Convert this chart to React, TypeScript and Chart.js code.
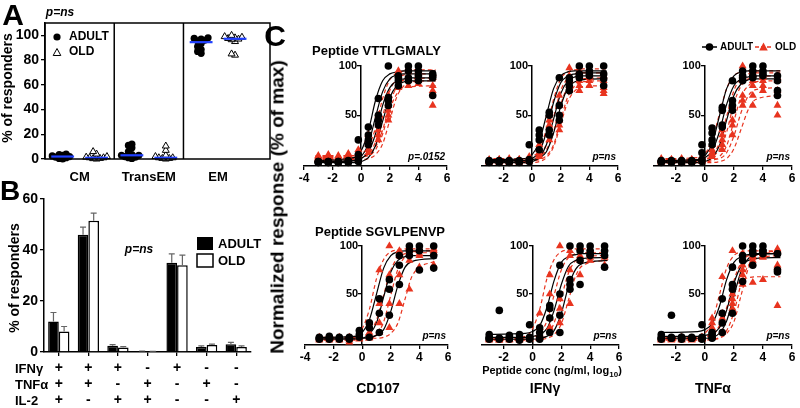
import React, { useEffect, useRef } from "react";
import { Chart, registerables } from "chart.js";

Chart.register(...registerables);

const FONT = "'Liberation Sans', Arial, Helvetica, sans-serif";
Chart.defaults.font.family = FONT;
Chart.defaults.color = "#000";

const RED = "#e8341f";
const BLUE = "#2040ff";

const seriesNames = ["ADULT", "OLD"];

/* ---------------- Panel A ---------------- */
const subsetLabels = ["CM", "TransEM", "EM"];
const adultCM = [0, 0.5, 1, 1.5, 2, 2.5, 3, 3.5, 4];
const oldCM = [0, 0.3, 0.5, 1, 1, 1.5, 2, 4, 6];
const adultTransEM = [0.5, 1, 1.5, 2, 3, 3, 3.5, 6, 9, 11, 12];
const oldTransEM = [0, 0.5, 0.5, 1, 1, 2, 3, 7, 10.5];
const adultEM = [85.5, 87, 88.5, 91, 93.5, 95.5, 96, 97, 97.5, 98];
const oldEM = [84, 85, 95, 96.5, 97, 97.5, 98, 98.5, 99, 100];
const yTicksA = [0, 20, 40, 60, 80, 100];

/* ---------------- Panel B ---------------- */
const cytokineRows = ["IFNγ", "TNFα", "IL-2"];
const ifnSigns = ["+", "+", "+", "-", "+", "-", "-"];
const tnfSigns = ["+", "+", "-", "+", "-", "+", "-"];
const il2Signs = ["+", "-", "+", "+", "-", "-", "+"];
const adultPct = [12, 46, 2.5, 0.3, 35, 2, 3];
const adultSem = [3.5, 3, 0.4, 0.1, 3.5, 0.4, 0.8];
const oldPct = [8, 51.5, 1.8, 0.2, 34, 2.7, 2];
const oldSem = [2, 3, 0.3, 0.1, 4, 0.4, 0.4];
const yTicksB = [0, 20, 40, 60];

/* ---------------- Panel C ---------------- */
const peptides = ["Peptide VTTLGMALY", "Peptide SGVLPENVP"];
const readouts = ["CD107", "IFNγ", "TNFα"];
const pValues = ["p=.0152", "p=ns", "p=ns", "p=ns", "p=ns", "p=ns"];
const yTicksC = [50, 100];
const concLog = [-3, -2.3, -1.6, -0.9, -0.2, 0.5, 1.2, 1.9, 2.6, 3.3, 4, 5];
const fitLog = [-3.2, -0.5, 0, 0.5, 1, 1.5, 2, 2.5, 3, 3.5, 5.2];

// VTTLGMALY / CD107
const vttCd107AdultPts = [
  [3, 2, 3, 4, 25, 38, 67, 100, 88, 100, 100, 92],
  [2, 3, 2, 3, 10, 30, 50, 68, 90, 95, 95, 90],
  [3, 2, 3, 2, 5, 25, 45, 60, 85, 85, 90, 70],
  [2, 3, 2, 3, 3, 20, 40, 65, 80, 88, 85, 88],
];
const vttCd107OldPts = [
  [8, 9, 8, 10, 15, 30, 50, 70, 95, 98, 95, 92],
  [6, 5, 6, 7, 10, 25, 40, 60, 90, 95, 92, 88],
  [9, 10, 9, 11, 12, 20, 35, 55, 85, 88, 88, 80],
  [5, 4, 5, 6, 5, 15, 30, 45, 80, 85, 85, 75],
  [7, 6, 7, 8, 8, 12, 25, 50, 78, 80, 82, 60],
];
const vttCd107AdultFit = [
  [4, 7, 14, 34, 65, 85, 92, 94, 95, 95, 95],
  [3, 4, 8, 21, 48, 74, 87, 91, 92, 92, 92],
  [3, 4, 6, 13, 31, 60, 78, 85, 87, 88, 88],
  [2, 2, 3, 7, 19, 44, 68, 80, 84, 85, 85],
];
const vttCd107OldFit = [
  [8, 9, 11, 18, 37, 67, 86, 93, 95, 96, 96],
  [6, 6, 7, 11, 23, 49, 75, 87, 91, 92, 92],
  [9, 9, 10, 11, 18, 35, 62, 79, 86, 87, 88],
  [5, 5, 5, 6, 10, 21, 45, 69, 80, 84, 85],
  [7, 7, 8, 9, 15, 31, 56, 72, 78, 79, 80],
];

// VTTLGMALY / IFNγ
const vttIfnAdultPts = [
  [3, 4, 3, 4, 20, 35, 53, 88, 85, 100, 100, 100],
  [2, 3, 2, 3, 5, 30, 50, 60, 88, 92, 95, 92],
  [4, 2, 3, 2, 3, 25, 35, 50, 80, 90, 92, 87],
  [3, 3, 4, 3, 4, 15, 30, 45, 75, 88, 90, 80],
];
const vttIfnOldPts = [
  [4, 5, 4, 5, 8, 20, 50, 70, 98, 95, 96, 90],
  [3, 2, 3, 4, 5, 15, 45, 60, 90, 90, 92, 85],
  [5, 5, 6, 5, 6, 12, 40, 45, 85, 85, 88, 75],
  [2, 3, 2, 3, 4, 10, 30, 40, 80, 80, 85, 72],
  [3, 4, 3, 2, 3, 8, 25, 35, 75, 75, 80, 78],
];
const vttIfnAdultFit = [
  [5, 6, 10, 23, 50, 77, 90, 94, 95, 95, 95],
  [3, 4, 6, 13, 33, 63, 83, 90, 92, 93, 93],
  [2, 2, 3, 7, 20, 46, 72, 85, 89, 90, 90],
  [4, 4, 5, 7, 13, 32, 59, 78, 84, 86, 87],
];
const vttIfnOldFit = [
  [5, 6, 8, 15, 36, 66, 87, 94, 96, 97, 97],
  [3, 3, 4, 8, 21, 48, 75, 88, 92, 93, 93],
  [6, 6, 7, 9, 15, 33, 61, 79, 85, 87, 88],
  [4, 4, 4, 5, 9, 20, 45, 69, 80, 84, 85],
  [2, 2, 2, 3, 7, 18, 41, 64, 75, 79, 80],
];

// VTTLGMALY / TNFα
const vttTnfAdultPts = [
  [3, 2, 3, 4, 20, 37, 58, 85, 95, 100, 100, 90],
  [4, 3, 4, 3, 12, 32, 55, 65, 90, 95, 95, 85],
  [2, 4, 3, 2, 5, 25, 40, 60, 88, 90, 92, 75],
  [3, 3, 2, 3, 3, 20, 38, 55, 85, 88, 90, 70],
];
const vttTnfOldPts = [
  [6, 5, 6, 5, 8, 20, 35, 60, 100, 95, 90, 85],
  [4, 5, 4, 5, 6, 15, 30, 55, 90, 85, 88, 75],
  [5, 4, 5, 4, 5, 12, 25, 45, 70, 80, 85, 60],
  [3, 3, 4, 3, 4, 10, 20, 40, 60, 60, 75, 50],
  [2, 3, 2, 3, 3, 8, 15, 30, 65, 70, 80, 88],
];
const vttTnfAdultFit = [
  [3, 4, 9, 21, 49, 77, 90, 94, 95, 95, 95],
  [4, 5, 7, 14, 33, 61, 80, 87, 89, 90, 90],
  [2, 2, 3, 7, 19, 45, 70, 82, 86, 87, 87],
];
const vttTnfOldFit = [
  [6, 7, 11, 24, 51, 77, 90, 94, 95, 95, 95],
  [4, 4, 5, 9, 22, 49, 75, 88, 92, 93, 93],
  [5, 5, 6, 8, 15, 33, 62, 80, 87, 89, 90],
  [3, 3, 3, 4, 8, 19, 44, 69, 80, 84, 85],
  [4, 4, 4, 5, 6, 12, 29, 53, 70, 76, 78],
  [2, 2, 2, 2, 3, 6, 16, 36, 56, 66, 70],
];

// SGVLPENVP / CD107
const sgvCd107AdultPts = [
  [5, 6, 5, 4, 12, 20, 45, 65, 80, 100, 100, 100],
  [3, 4, 3, 5, 8, 15, 30, 55, 90, 95, 95, 90],
  [4, 3, 4, 3, 5, 5, 10, 28, 60, 90, 75, 77],
];
const sgvCd107OldPts = [
  [2, 3, 2, 0, 5, 20, 75, 100, 95, 98, 95, 97],
  [4, 5, 4, 5, 6, 10, 40, 70, 90, 92, 90, 93],
  [3, 2, 3, 2, 3, 5, 20, 40, 70, 85, 92, 95],
  [5, 4, 5, 4, 4, 4, 10, 15, 40, 55, 78, 80],
];
const sgvCd107AdultFit = [
  [5, 6, 10, 23, 50, 77, 90, 94, 95, 95, 95],
  [3, 3, 4, 8, 20, 47, 73, 85, 89, 90, 90],
  [4, 4, 4, 5, 7, 13, 32, 59, 78, 84, 87],
];
const sgvCd107OldFit = [
  [3, 6, 14, 34, 66, 86, 94, 96, 97, 97, 97],
  [5, 5, 6, 10, 23, 49, 75, 88, 92, 93, 93],
  [2, 2, 2, 3, 8, 21, 49, 76, 89, 94, 95],
  [4, 4, 4, 4, 4, 5, 9, 20, 45, 69, 85],
];

// SGVLPENVP / IFNγ
const sgvIfnAdultPts = [
  [8, 33, 7, 8, 18, 15, 38, 80, 100, 100, 100, 100],
  [5, 4, 5, 4, 5, 10, 35, 50, 65, 95, 95, 95],
  [3, 4, 3, 3, 4, 5, 25, 28, 60, 60, 90, 78],
  [4, 3, 4, 2, 3, 3, 10, 10, 55, 85, 92, 90],
];
const sgvIfnOldPts = [
  [3, 2, 3, 4, 5, 30, 70, 100, 95, 98, 97, 97],
  [4, 3, 4, 3, 4, 15, 50, 45, 90, 90, 92, 90],
  [2, 3, 2, 3, 3, 8, 25, 35, 75, 85, 88, 80],
  [3, 2, 3, 2, 3, 5, 15, 20, 40, 70, 85, 88],
];
const sgvIfnAdultFit = [
  [8, 9, 11, 17, 36, 64, 83, 89, 91, 92, 92],
  [5, 5, 6, 8, 14, 33, 60, 79, 85, 87, 88],
  [3, 3, 3, 4, 6, 12, 30, 58, 76, 82, 85],
];
const sgvIfnOldFit = [
  [3, 6, 14, 34, 66, 86, 94, 96, 97, 97, 97],
  [4, 4, 5, 9, 22, 49, 75, 88, 92, 93, 93],
  [2, 2, 2, 3, 7, 20, 46, 72, 85, 89, 90],
  [3, 3, 3, 3, 4, 8, 19, 44, 69, 80, 85],
];

// SGVLPENVP / TNFα
const sgvTnfAdultPts = [
  [8, 28, 5, 4, 18, 10, 45, 78, 100, 100, 100, 92],
  [5, 4, 5, 4, 5, 8, 30, 60, 63, 95, 95, 75],
  [4, 5, 4, 5, 4, 5, 20, 55, 90, 80, 92, 73],
  [3, 4, 3, 4, 3, 4, 10, 30, 85, 92, 95, 92],
];
const sgvTnfOldPts = [
  [3, 4, 3, 4, 5, 25, 68, 95, 92, 95, 95, 97],
  [5, 4, 5, 4, 5, 20, 30, 45, 80, 90, 92, 80],
  [2, 3, 2, 3, 3, 10, 20, 40, 70, 85, 88, 78],
  [4, 3, 4, 3, 4, 15, 25, 50, 60, 62, 65, 38],
  [3, 2, 3, 2, 3, 5, 10, 35, 75, 88, 90, 95],
];
const sgvTnfAdultFit = [
  [10, 11, 13, 19, 37, 65, 83, 89, 91, 92, 92],
  [6, 6, 7, 9, 15, 33, 61, 79, 85, 87, 88],
  [4, 4, 4, 5, 9, 22, 48, 74, 87, 91, 92],
];
const sgvTnfOldFit = [
  [3, 4, 9, 21, 49, 77, 90, 94, 95, 95, 95],
  [5, 5, 6, 8, 15, 34, 64, 83, 90, 92, 93],
  [2, 2, 2, 3, 5, 12, 31, 61, 80, 87, 90],
  [4, 4, 5, 8, 17, 36, 55, 64, 67, 68, 68],
  [3, 3, 3, 3, 4, 9, 21, 49, 77, 90, 95],
];

const cData = [
  { ap: vttCd107AdultPts, op: vttCd107OldPts, af: vttCd107AdultFit, of: vttCd107OldFit },
  { ap: vttIfnAdultPts, op: vttIfnOldPts, af: vttIfnAdultFit, of: vttIfnOldFit },
  { ap: vttTnfAdultPts, op: vttTnfOldPts, af: vttTnfAdultFit, of: vttTnfOldFit },
  { ap: sgvCd107AdultPts, op: sgvCd107OldPts, af: sgvCd107AdultFit, of: sgvCd107OldFit },
  { ap: sgvIfnAdultPts, op: sgvIfnOldPts, af: sgvIfnAdultFit, of: sgvIfnOldFit },
  { ap: sgvTnfAdultPts, op: sgvTnfOldPts, af: sgvTnfAdultFit, of: sgvTnfOldFit },
];

/* ---------------- layout (pixels) ---------------- */
const cRows = [
  { top: 66, bottom: 166, ymin: -1.5, padTop: 25 },
  { top: 246, bottom: 345, ymin: -3, padTop: 12 },
];
const cCols = [
  { xmin: -4, xticks: [-4, -2, 0, 2, 4, 6], lr: [[304, 447], [305, 448]] },
  { xmin: -3.5, xticks: [-2, 0, 2, 4, 6], lr: [[482, 618], [482, 619]] },
  { xmin: -3.5, xticks: [-2, 0, 2, 4, 6], lr: [[654, 792], [654, 792]] },
];
const C_PAD_L = 14;
const C_PAD_R = 8;
const C_XAXIS_H = 22;

/* ---------------- helpers ---------------- */
type Pt = { x: number; y: number };

function median(a: number[]) {
  const s = [...a].sort((p, q) => p - q);
  const m = s.length >> 1;
  return s.length % 2 ? s[m] : (s[m - 1] + s[m]) / 2;
}

function swarm(vals: number[], cx: number, step: number, tol: number): Pt[] {
  const placed: { o: number; v: number }[] = [];
  const order = [0, -1, 1, -2, 2, -3, 3, -4, 4, -5, 5];
  return vals.map((v) => {
    for (const o of order) {
      if (!placed.some((p) => p.o === o && Math.abs(p.v - v) < tol)) {
        placed.push({ o, v });
        return { x: cx + o * step, y: v };
      }
    }
    return { x: cx, y: v };
  });
}

const grid = (tickLength: number) => ({
  drawOnChartArea: false,
  drawTicks: true,
  tickLength,
  color: "#000",
  lineWidth: 1.3,
});
const border = { display: true, color: "#000", width: 1.5 };

function drawTriangle(ctx: CanvasRenderingContext2D, x: number, y: number, r: number) {
  ctx.beginPath();
  ctx.moveTo(x, y - r);
  ctx.lineTo(x + r * 0.95, y + r * 0.75);
  ctx.lineTo(x - r * 0.95, y + r * 0.75);
  ctx.closePath();
}

/* ---------------- Panel A config ---------------- */
function configA(): any {
  const groups = [
    [adultCM, oldCM],
    [adultTransEM, oldTransEM],
    [adultEM, oldEM],
  ];
  const centers = [0.5, 1.5, 2.5];
  const off = 0.245;
  const half = 0.165;
  const medianSets: any[] = [];
  const adultPts: Pt[] = [];
  const oldPts: Pt[] = [];
  groups.forEach(([ad, od], i) => {
    const ca = centers[i] - off;
    const co = centers[i] + off;
    ([[ad, ca], [od, co]] as [number[], number][]).forEach(([vals, c]) => {
      const m = median(vals);
      medianSets.push({
        data: [{ x: c - half, y: m }, { x: c + half, y: m }],
        showLine: true,
        borderColor: BLUE,
        borderWidth: 2.2,
        pointRadius: 0,
        clip: false,
      });
    });
    adultPts.push(...swarm(ad, ca, 0.05, 3));
    oldPts.push(...swarm(od, co, 0.05, 3));
  });

  const boxPlugin = {
    id: "boxA",
    afterDraw(chart: any) {
      const { ctx, chartArea: a, scales } = chart;
      ctx.save();
      ctx.strokeStyle = "#000";
      ctx.lineWidth = 1.5;
      ctx.strokeRect(a.left, a.top, a.right - a.left, a.bottom - a.top);
      [1, 2].forEach((v) => {
        const x = scales.x.getPixelForValue(v);
        ctx.beginPath();
        ctx.moveTo(x, a.top);
        ctx.lineTo(x, a.bottom);
        ctx.stroke();
      });
      const lx = a.left + 12;
      ctx.fillStyle = "#000";
      ctx.beginPath();
      ctx.arc(lx, a.top + 14, 3.6, 0, Math.PI * 2);
      ctx.fill();
      ctx.lineWidth = 1;
      drawTriangle(ctx, lx, a.top + 29.5, 4);
      ctx.stroke();
      ctx.font = `bold 12px ${FONT}`;
      ctx.textBaseline = "middle";
      ctx.textAlign = "left";
      ctx.fillText(seriesNames[0], a.left + 24, a.top + 14);
      ctx.fillText(seriesNames[1], a.left + 24, a.top + 29);
      ctx.restore();
    },
  };

  return {
    type: "scatter",
    data: {
      datasets: [
        ...medianSets,
        {
          label: seriesNames[0],
          data: adultPts,
          pointStyle: "circle",
          pointRadius: 3.6,
          backgroundColor: "#000",
          borderColor: "#000",
          borderWidth: 0,
          clip: false,
        },
        {
          label: seriesNames[1],
          data: oldPts,
          pointStyle: "triangle",
          pointRadius: 4,
          backgroundColor: "#fff",
          borderColor: "#000",
          borderWidth: 1,
          clip: false,
        },
      ],
    },
    options: {
      responsive: false,
      animation: false,
      devicePixelRatio: 1,
      layout: { padding: { top: 23, right: 10, left: 0, bottom: 0 } },
      plugins: { legend: { display: false }, tooltip: { enabled: false } },
      scales: {
        x: {
          type: "linear",
          min: 0,
          max: 3.25,
          afterBuildTicks: (s: any) => {
            s.ticks = centers.map((v) => ({ value: v }));
          },
          ticks: {
            callback: (_v: any, i: number) => subsetLabels[i],
            font: { size: 13, weight: "bold" },
            padding: 11,
            maxRotation: 0,
            autoSkip: false,
          },
          grid: { display: false, drawTicks: false },
          border: { display: false },
          afterFit: (s: any) => {
            s.height = 33;
          },
        },
        y: {
          type: "linear",
          min: 0,
          max: 110,
          afterBuildTicks: (s: any) => {
            s.ticks = yTicksA.map((v) => ({ value: v }));
          },
          ticks: { font: { size: 14, weight: "bold" }, padding: 2 },
          grid: grid(4),
          border,
          afterFit: (s: any) => {
            s.width = 45;
          },
        },
      },
    },
    plugins: [boxPlugin],
  };
}

/* ---------------- Panel B config ---------------- */
function configB(): any {
  const sems = [adultSem, oldSem];
  const errPlugin = {
    id: "errB",
    afterDatasetsDraw(chart: any) {
      const { ctx, scales } = chart;
      ctx.save();
      ctx.strokeStyle = "#666";
      ctx.lineWidth = 1.2;
      chart.data.datasets.forEach((ds: any, di: number) => {
        const meta = chart.getDatasetMeta(di);
        meta.data.forEach((el: any, i: number) => {
          const top = scales.y.getPixelForValue(ds.data[i] + sems[di][i]);
          ctx.beginPath();
          ctx.moveTo(el.x, el.y);
          ctx.lineTo(el.x, top);
          ctx.moveTo(el.x - 3, top);
          ctx.lineTo(el.x + 3, top);
          ctx.stroke();
        });
      });
      ctx.restore();
    },
  };
  const legendPlugin = {
    id: "legB",
    afterDraw(chart: any) {
      const { ctx, chartArea: a } = chart;
      const bx = a.left + 153;
      const y1 = a.top + 38;
      const y2 = a.top + 55;
      ctx.save();
      ctx.fillStyle = "#000";
      ctx.fillRect(bx, y1, 16, 13);
      ctx.strokeStyle = "#000";
      ctx.lineWidth = 1.5;
      ctx.fillStyle = "#fff";
      ctx.fillRect(bx, y2, 16, 13);
      ctx.strokeRect(bx, y2, 16, 13);
      ctx.fillStyle = "#000";
      ctx.font = `bold 13px ${FONT}`;
      ctx.textBaseline = "middle";
      ctx.textAlign = "left";
      ctx.fillText(seriesNames[0], bx + 21, y1 + 7);
      ctx.fillText(seriesNames[1], bx + 21, y2 + 7);
      ctx.restore();
    },
  };
  return {
    type: "bar",
    data: {
      labels: ifnSigns.map((s, i) => [s, tnfSigns[i], il2Signs[i]]),
      datasets: [
        {
          label: seriesNames[0],
          data: adultPct,
          backgroundColor: "#000",
          borderColor: "#000",
          borderWidth: 1.5,
          barPercentage: 1,
          categoryPercentage: 0.72,
        },
        {
          label: seriesNames[1],
          data: oldPct,
          backgroundColor: "#fff",
          borderColor: "#000",
          borderWidth: 1.5,
          barPercentage: 1,
          categoryPercentage: 0.72,
        },
      ],
    },
    options: {
      responsive: false,
      animation: false,
      devicePixelRatio: 1,
      layout: { padding: { top: 13, right: 29, left: 0, bottom: 0 } },
      plugins: { legend: { display: false }, tooltip: { enabled: false } },
      scales: {
        x: {
          grid: { ...grid(4), offset: false },
          border,
          ticks: {
            font: { size: 14, weight: "bold", lineHeight: "16px" },
            padding: 4,
            maxRotation: 0,
            autoSkip: false,
          },
          afterFit: (s: any) => {
            s.height = 56;
          },
        },
        y: {
          min: 0,
          max: 60,
          afterBuildTicks: (s: any) => {
            s.ticks = yTicksB.map((v) => ({ value: v }));
          },
          ticks: { font: { size: 14, weight: "bold" }, padding: 2 },
          grid: grid(4),
          border,
          afterFit: (s: any) => {
            s.width = 44;
          },
        },
      },
    },
    plugins: [errPlugin, legendPlugin],
  };
}

/* ---------------- Panel C config ---------------- */
function configC(idx: number): any {
  const d = cData[idx];
  const row = cRows[Math.floor(idx / 3)];
  const col = cCols[idx % 3];
  const fitSets = (rows: number[][], color: string, dash: number[]) =>
    rows.map((r) => ({
      data: fitLog.map((x, i) => ({ x, y: r[i] })),
      showLine: true,
      borderColor: color,
      borderWidth: 1.2,
      borderDash: dash,
      pointRadius: 0,
      cubicInterpolationMode: "monotone",
      fill: false,
      clip: false,
    }));
  const ptSet = (rows: number[][], style: string, color: string, radius: number) => ({
    data: rows.flatMap((r) => concLog.map((x, i) => ({ x, y: r[i] }))),
    pointStyle: style,
    pointRadius: radius,
    backgroundColor: color,
    borderColor: color,
    borderWidth: 0,
    clip: false,
  });

  const extra = {
    id: "extraC" + idx,
    afterDraw(chart: any) {
      const { ctx, chartArea: a, scales } = chart;
      ctx.save();
      ctx.fillStyle = "#000";
      // y tick labels, left of the axis at x = 0
      const x0 = scales.x.getPixelForValue(0);
      ctx.font = `bold 11px ${FONT}`;
      ctx.textAlign = "right";
      ctx.textBaseline = "middle";
      yTicksC.forEach((v) => ctx.fillText(String(v), x0 - 4, scales.y.getPixelForValue(v)));
      // p value
      ctx.font = `italic bold 10px ${FONT}`;
      ctx.fillText(pValues[idx], a.right - 2, a.bottom - 9);
      if (idx === 2) {
        const y = a.top - 19;
        const r = a.right;
        ctx.lineWidth = 1.5;
        ctx.strokeStyle = "#000";
        ctx.beginPath();
        ctx.moveTo(r - 90, y);
        ctx.lineTo(r - 75, y);
        ctx.stroke();
        ctx.beginPath();
        ctx.arc(r - 82.5, y, 3.8, 0, Math.PI * 2);
        ctx.fill();
        ctx.font = `bold 10px ${FONT}`;
        ctx.textAlign = "left";
        ctx.fillText(seriesNames[0], r - 72, y + 0.5);
        ctx.strokeStyle = RED;
        ctx.fillStyle = RED;
        ctx.setLineDash([4, 2]);
        ctx.beginPath();
        ctx.moveTo(r - 37, y);
        ctx.lineTo(r - 20, y);
        ctx.stroke();
        ctx.setLineDash([]);
        drawTriangle(ctx, r - 28.5, y, 4.5);
        ctx.fill();
        ctx.fillStyle = "#000";
        ctx.fillText(seriesNames[1], r - 17, y + 0.5);
      }
      ctx.restore();
    },
  };

  return {
    type: "scatter",
    data: {
      datasets: [
        ptSet(d.ap, "circle", "#000", 3.8),
        ptSet(d.op, "triangle", RED, 4.6),
        ...fitSets(d.af, "#000", []),
        ...fitSets(d.of, RED, [4, 3]),
      ],
    },
    options: {
      responsive: false,
      animation: false,
      devicePixelRatio: 1,
      layout: { padding: { top: row.padTop, left: C_PAD_L, right: C_PAD_R, bottom: 0 } },
      plugins: { legend: { display: false }, tooltip: { enabled: false } },
      scales: {
        x: {
          type: "linear",
          min: col.xmin,
          max: 6,
          afterBuildTicks: (s: any) => {
            s.ticks = col.xticks.map((v) => ({ value: v }));
          },
          ticks: {
            font: { size: 12, weight: "bold" },
            padding: 1,
            maxRotation: 0,
            autoSkip: false,
            callback: (v: any) => String(v),
          },
          grid: grid(4),
          border,
          afterFit: (s: any) => {
            s.height = C_XAXIS_H;
          },
        },
        y: {
          type: "linear",
          min: row.ymin,
          max: 100,
          position: { x: 0 },
          afterBuildTicks: (s: any) => {
            s.ticks = yTicksC.map((v) => ({ value: v }));
          },
          ticks: { display: false },
          grid: grid(3),
          border,
        },
      },
    },
    plugins: [extra],
  };
}

/* ---------------- components ---------------- */
function ChartBox(props: { left: number; top: number; width: number; height: number; make: () => any }) {
  const ref = useRef<HTMLCanvasElement>(null);
  useEffect(() => {
    const chart = new Chart(ref.current as HTMLCanvasElement, props.make());
    return () => chart.destroy();
  }, []);
  return (
    <div style={{ position: "absolute", left: props.left, top: props.top, width: props.width, height: props.height }}>
      <canvas
        ref={ref}
        width={props.width}
        height={props.height}
        style={{ display: "block", width: props.width, height: props.height }}
      />
    </div>
  );
}

function Txt(props: {
  x: number;
  y: number;
  size: number;
  children: React.ReactNode;
  italic?: boolean;
  rot?: boolean;
  left?: boolean;
}) {
  return (
    <div
      style={{
        position: "absolute",
        left: props.x,
        top: props.y,
        transform: `translate(${props.left ? "0" : "-50%"},-50%)${props.rot ? " rotate(-90deg)" : ""}`,
        font: `${props.italic ? "italic " : ""}bold ${props.size}px ${FONT}`,
        lineHeight: 1,
        whiteSpace: "nowrap",
        color: "#000",
      }}
    >
      {props.children}
    </div>
  );
}

export default function App() {
  const cBoxes = [0, 1, 2, 3, 4, 5].map((i) => {
    const row = cRows[Math.floor(i / 3)];
    const col = cCols[i % 3];
    const [l, r] = col.lr[Math.floor(i / 3)];
    return {
      i,
      left: l - C_PAD_L,
      top: row.top - row.padTop,
      width: r - l + C_PAD_L + C_PAD_R,
      height: row.padTop + (row.bottom - row.top) + C_XAXIS_H,
    };
  });

  return (
    <div
      style={{
        position: "absolute",
        left: 0,
        top: 0,
        width: 800,
        height: 408,
        overflow: "hidden",
        background: "#fff",
        fontFamily: FONT,
      }}
    >
      <ChartBox left={0} top={0} width={280} height={192} make={configA} />
      <ChartBox left={0} top={186} width={280} height={222} make={configB} />
      {cBoxes.map((b) => (
        <ChartBox key={b.i} left={b.left} top={b.top} width={b.width} height={b.height} make={() => configC(b.i)} />
      ))}

      {/* panel letters */}
      <Txt x={13} y={15} size={30}>A</Txt>
      <Txt x={10} y={191} size={28}>B</Txt>
      <Txt x={275} y={36} size={30}>C</Txt>

      {/* panel A texts */}
      <Txt x={60} y={12} size={12} italic>p=ns</Txt>
      <Txt x={7} y={88} size={14} rot>% of responders</Txt>

      {/* panel B texts */}
      <Txt x={139} y={249} size={12} italic>p=ns</Txt>
      <Txt x={14} y={278} size={14} rot>% of responders</Txt>
      {cytokineRows.map((t, i) => (
        <Txt key={t} x={15} y={368 + i * 16} size={13} left>
          {t}
        </Txt>
      ))}

      {/* panel C texts */}
      <Txt x={312} y={50} size={13} left>{peptides[0]}</Txt>
      <Txt x={315} y={231} size={13} left>{peptides[1]}</Txt>
      <Txt x={277} y={207} size={19} rot>Normalized response (% of max)</Txt>
      <Txt x={552} y={372} size={11}>
        Peptide conc (ng/ml, log<sub style={{ fontSize: 8 }}>10</sub>)
      </Txt>
      <Txt x={378} y={388} size={14}>{readouts[0]}</Txt>
      <Txt x={545} y={388} size={14}>{readouts[1]}</Txt>
      <Txt x={713} y={388} size={14}>{readouts[2]}</Txt>
    </div>
  );
}
